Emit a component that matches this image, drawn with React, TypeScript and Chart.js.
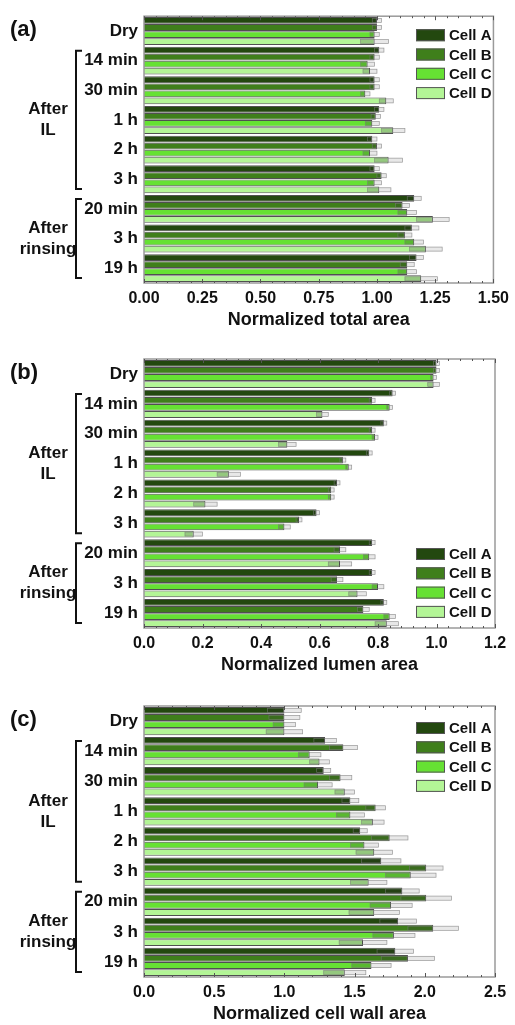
import React, { useEffect, useRef } from 'react';
import { Chart, registerables } from 'chart.js';
Chart.register(...registerables);

const FONT = "'Liberation Sans', Arial, sans-serif";

const categories = ['Dry', '14 min', '30 min', '1 h', '2 h', '3 h', '20 min', '3 h', '19 h'];
const seriesNames = ['Cell A', 'Cell B', 'Cell C', 'Cell D'];
const seriesColors = ['#23480f', '#3f7f1b', '#66e133', '#b3f596'];

// (a) Normalized total area
const totalA = [1.0, 1.01, 0.99, 1.01, 0.98, 0.99, 1.16, 1.15, 1.17];
const totalB = [1.0, 0.99, 0.99, 0.995, 1.0, 1.02, 1.11, 1.12, 1.13];
const totalC = [0.99, 0.96, 0.95, 0.98, 0.97, 0.99, 1.13, 1.16, 1.13];
const totalD = [0.99, 0.97, 1.04, 1.07, 1.05, 1.01, 1.24, 1.21, 1.19];
const totalAErr = [0.02, 0.02, 0.02, 0.02, 0.02, 0.02, 0.03, 0.03, 0.03];
const totalBErr = [0.02, 0.02, 0.02, 0.02, 0.02, 0.02, 0.03, 0.03, 0.03];
const totalCErr = [0.02, 0.03, 0.02, 0.03, 0.03, 0.03, 0.04, 0.04, 0.04];
const totalDErr = [0.06, 0.03, 0.03, 0.05, 0.06, 0.05, 0.07, 0.07, 0.07];

// (b) Normalized lumen area
const lumenA = [1.0, 0.85, 0.82, 0.77, 0.66, 0.59, 0.78, 0.78, 0.82];
const lumenB = [1.0, 0.78, 0.78, 0.68, 0.64, 0.53, 0.67, 0.66, 0.75];
const lumenC = [0.99, 0.84, 0.79, 0.7, 0.64, 0.48, 0.77, 0.8, 0.84];
const lumenD = [0.99, 0.61, 0.49, 0.29, 0.21, 0.17, 0.67, 0.73, 0.83];
const lumenAErr = [0.01, 0.01, 0.01, 0.01, 0.01, 0.01, 0.01, 0.01, 0.01];
const lumenBErr = [0.01, 0.01, 0.01, 0.01, 0.01, 0.01, 0.02, 0.02, 0.02];
const lumenCErr = [0.01, 0.01, 0.01, 0.01, 0.01, 0.02, 0.02, 0.02, 0.02];
const lumenDErr = [0.02, 0.02, 0.03, 0.04, 0.04, 0.03, 0.04, 0.03, 0.04];

// (c) Normalized cell wall area
const wallA = [1.0, 1.29, 1.28, 1.47, 1.54, 1.69, 1.84, 1.81, 1.79];
const wallB = [1.0, 1.42, 1.4, 1.65, 1.75, 2.01, 2.01, 2.06, 1.88];
const wallC = [1.0, 1.18, 1.24, 1.47, 1.57, 1.9, 1.76, 1.78, 1.62];
const wallD = [1.0, 1.25, 1.43, 1.63, 1.64, 1.6, 1.64, 1.56, 1.43];
const wallAErr = [0.12, 0.08, 0.05, 0.06, 0.05, 0.14, 0.12, 0.13, 0.13];
const wallBErr = [0.11, 0.1, 0.08, 0.07, 0.13, 0.12, 0.18, 0.18, 0.19];
const wallCErr = [0.08, 0.08, 0.1, 0.1, 0.1, 0.18, 0.15, 0.15, 0.14];
const wallDErr = [0.13, 0.07, 0.07, 0.08, 0.13, 0.13, 0.18, 0.17, 0.15];

const groupIL = ['After', 'IL'];
const groupRinse = ['After', 'rinsing'];

type PanelCfg = {
  label: string;
  title: string;
  values: number[][];
  errors: number[][];
  xMax: number;
  step: number;
  minor: number;
  decimals: number;
  top: number;
  height: number;
  padTop: number;
  padBottom: number;
  legendTop: number;
};

const decorPlugin = {
  id: 'decor',
  afterDatasetsDraw(chart: any) {
    const { ctx, scales } = chart;
    const x = scales.x;
    ctx.save();
    chart.data.datasets.forEach((ds: any, di: number) => {
      const meta = chart.getDatasetMeta(di);
      meta.data.forEach((el: any, i: number) => {
        const v = ds.data[i];
        const e = ds.errors[i];
        const p = el.getProps(['y', 'height'], true);
        const xl = x.getPixelForValue(v - e);
        const xv = x.getPixelForValue(v);
        const xr = x.getPixelForValue(v + e);
        const h = Math.max(2, p.height * 0.6);
        ctx.fillStyle = 'rgba(40,40,40,0.22)';
        ctx.fillRect(xl, p.y - h / 2, xv - xl, h);
        ctx.fillStyle = 'rgba(190,190,190,0.35)';
        ctx.fillRect(xv, p.y - h / 2, xr - xv, h);
        ctx.strokeStyle = 'rgba(120,120,120,0.75)';
        ctx.lineWidth = 0.7;
        ctx.strokeRect(xl, p.y - h / 2, xr - xl, h);
      });
    });
    ctx.restore();
  },
  afterDraw(chart: any) {
    const cfg: PanelCfg = chart.options.plugins.decor.cfg;
    const { ctx, chartArea: ca, scales } = chart;
    const x = scales.x;
    const y = scales.y;
    ctx.save();
    // frame
    ctx.strokeStyle = '#9a9a9a';
    ctx.lineWidth = 1.5;
    ctx.strokeRect(ca.left, ca.top, ca.right - ca.left, ca.bottom - ca.top);
    // inward ticks
    ctx.strokeStyle = '#555';
    ctx.lineWidth = 1;
    const n = Math.round(cfg.xMax / cfg.minor);
    const ratio = Math.round(cfg.step / cfg.minor);
    for (let k = 0; k <= n; k++) {
      const px = Math.round(x.getPixelForValue(k * cfg.minor)) + 0.5;
      const len = k % ratio === 0 ? 4 : 2;
      ctx.beginPath();
      ctx.moveTo(px, ca.top);
      ctx.lineTo(px, ca.top + len);
      ctx.moveTo(px, ca.bottom);
      ctx.lineTo(px, ca.bottom - len);
      ctx.stroke();
    }
    // legend
    ctx.font = `bold 15px ${FONT}`;
    ctx.textBaseline = 'middle';
    ctx.textAlign = 'left';
    seriesNames.forEach((name, i) => {
      const yc = ca.top + cfg.legendTop + i * 19.3;
      ctx.fillStyle = seriesColors[i];
      ctx.fillRect(416, yc - 6, 29, 12);
      ctx.strokeStyle = '#555';
      ctx.lineWidth = 1;
      ctx.strokeRect(416.5, yc - 5.5, 28, 11);
      ctx.fillStyle = '#111';
      ctx.fillText(name, 449, yc + 1);
    });
    // panel label
    ctx.font = `bold 22px ${FONT}`;
    ctx.fillStyle = '#111';
    ctx.fillText(cfg.label, 10, ca.top + 14);
    // brackets
    const half = (y.getPixelForValue(1) - y.getPixelForValue(0)) / 2;
    const drawGroup = (i0: number, i1: number, lines: string[]) => {
      const t = y.getPixelForValue(i0) - half + 5;
      const b = y.getPixelForValue(i1) + half - 5;
      ctx.strokeStyle = '#111';
      ctx.lineWidth = 2;
      ctx.beginPath();
      ctx.moveTo(82, t);
      ctx.lineTo(76, t);
      ctx.lineTo(76, b);
      ctx.lineTo(82, b);
      ctx.stroke();
      ctx.font = `bold 17px ${FONT}`;
      ctx.textAlign = 'center';
      ctx.fillStyle = '#111';
      const mid = (t + b) / 2;
      const lh = 21;
      lines.forEach((s, k) => {
        ctx.fillText(s, 48, mid + (k - (lines.length - 1) / 2) * lh);
      });
    };
    drawGroup(1, 5, groupIL);
    drawGroup(6, 8, groupRinse);
    ctx.restore();
  },
};

function Panel({ cfg }: { cfg: PanelCfg }) {
  const ref = useRef<HTMLCanvasElement>(null);
  useEffect(() => {
    if (!ref.current) return;
    const chart = new Chart(ref.current, {
      type: 'bar',
      data: {
        labels: categories,
        datasets: cfg.values.map((vals, i) => ({
          label: seriesNames[i],
          data: vals,
          errors: cfg.errors[i],
          backgroundColor: seriesColors[i],
          borderColor: '#505050',
          borderWidth: 1,
          categoryPercentage: 0.95,
          barPercentage: 0.96,
        })) as any,
      },
      options: {
        indexAxis: 'y',
        animation: false,
        responsive: false,
        devicePixelRatio: 1,
        layout: { padding: { left: 0, right: 20, top: cfg.padTop, bottom: cfg.padBottom } },
        plugins: {
          legend: { display: false },
          tooltip: { enabled: false },
          decor: { cfg },
        } as any,
        scales: {
          x: {
            min: 0,
            max: cfg.xMax,
            border: { display: false },
            grid: { display: false, drawTicks: false },
            ticks: {
              stepSize: cfg.step,
              padding: 6,
              color: '#111',
              font: { family: FONT, size: 16, weight: 'bold' },
              callback: (v: any) => Number(v).toFixed(cfg.decimals),
            },
            title: {
              display: true,
              text: cfg.title,
              color: '#111',
              padding: 0,
              font: { family: FONT, size: 18, weight: 'bold' },
            },
            afterFit: (s: any) => {
              s.height = 48;
            },
          },
          y: {
            border: { display: false },
            grid: { display: false, drawTicks: false },
            ticks: {
              padding: 6,
              color: '#111',
              font: { family: FONT, size: 17, weight: 'bold' },
            },
            afterFit: (s: any) => {
              s.width = 144;
            },
          },
        },
      },
      plugins: [decorPlugin as any],
    });
    return () => chart.destroy();
  }, [cfg]);
  return (
    <canvas
      ref={ref}
      width={515}
      height={cfg.height}
      style={{ position: 'absolute', left: 0, top: cfg.top, width: 515, height: cfg.height }}
    />
  );
}

const panels: PanelCfg[] = [
  {
    label: '(a)',
    title: 'Normalized total area',
    values: [totalA, totalB, totalC, totalD],
    errors: [totalAErr, totalBErr, totalCErr, totalDErr],
    xMax: 1.5,
    step: 0.25,
    minor: 0.05,
    decimals: 2,
    top: 0,
    height: 340,
    padTop: 13,
    padBottom: 9,
    legendTop: 19,
  },
  {
    label: '(b)',
    title: 'Normalized lumen area',
    values: [lumenA, lumenB, lumenC, lumenD],
    errors: [lumenAErr, lumenBErr, lumenCErr, lumenDErr],
    xMax: 1.2,
    step: 0.2,
    minor: 0.04,
    decimals: 1,
    top: 340,
    height: 343,
    padTop: 19,
    padBottom: 7,
    legendTop: 195,
  },
  {
    label: '(c)',
    title: 'Normalized cell wall area',
    values: [wallA, wallB, wallC, wallD],
    errors: [wallAErr, wallBErr, wallCErr, wallDErr],
    xMax: 2.5,
    step: 0.5,
    minor: 0.1,
    decimals: 1,
    top: 683,
    height: 342,
    padTop: 23,
    padBottom: 0,
    legendTop: 22,
  },
];

export default function App() {
  return (
    <div
      style={{
        position: 'absolute',
        left: 0,
        top: 0,
        width: 515,
        height: 1025,
        overflow: 'hidden',
        background: '#fff',
      }}
    >
      {panels.map((p) => (
        <Panel key={p.label} cfg={p} />
      ))}
    </div>
  );
}
